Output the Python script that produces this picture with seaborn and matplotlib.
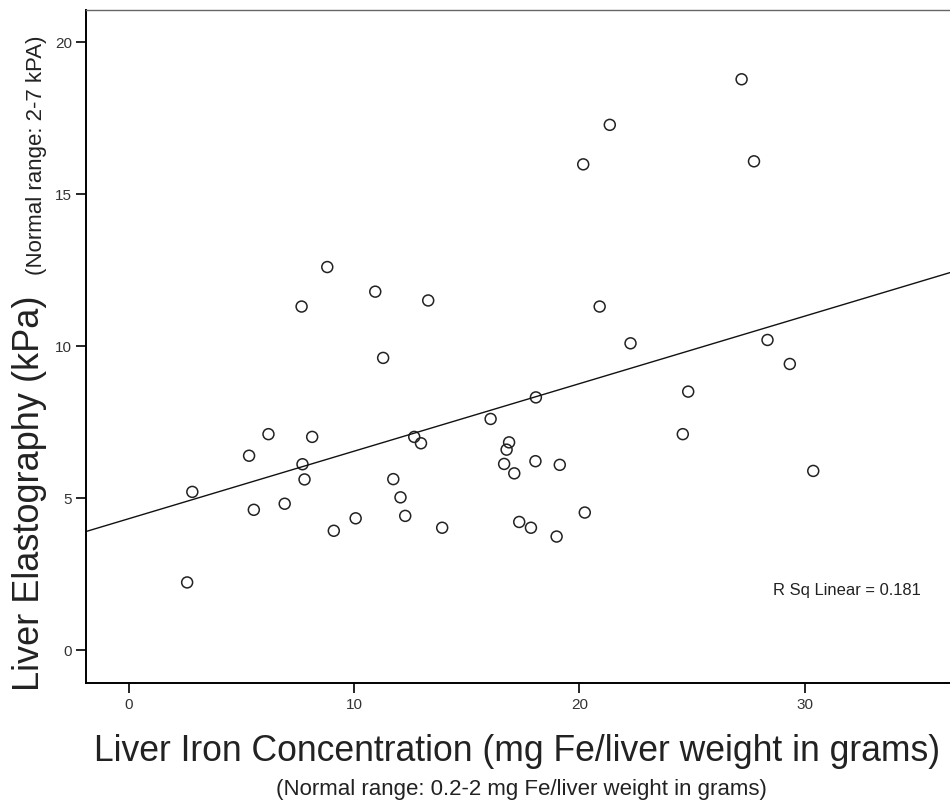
import numpy as np
import pandas as pd
import matplotlib
matplotlib.use('Agg')
import matplotlib.pyplot as plt
import seaborn as sns

# values
iron = [2.59, 2.82, 5.34, 5.55, 6.20, 6.92, 7.71, 7.80, 8.14, 9.10,
        10.07, 8.81, 7.67, 10.94, 13.29, 11.29, 11.74, 12.06, 12.27, 13.91,
        12.67, 12.97, 16.06, 18.07, 16.88, 16.77, 16.66, 17.11, 18.05, 19.13,
        17.33, 17.85, 18.99, 20.24, 20.90, 27.20, 21.35, 20.17, 27.75, 22.27,
        28.35, 29.34, 24.83, 24.59, 30.38]
elasto = [2.21, 5.19, 6.38, 4.60, 7.09, 4.80, 6.10, 5.60, 7.00, 3.91,
          4.32, 12.59, 11.29, 11.78, 11.49, 9.60, 5.61, 5.01, 4.40, 4.01,
          7.00, 6.79, 7.59, 8.30, 6.82, 6.58, 6.11, 5.80, 6.20, 6.08,
          4.20, 4.01, 3.72, 4.51, 11.29, 18.77, 17.27, 15.97, 16.07, 10.08,
          10.19, 9.40, 8.49, 7.09, 5.88]
x_ticks = [0, 10, 20, 30]
y_ticks = [0, 5, 10, 15, 20]
r_sq = 0.181

sns.set_style('white')
plt.rcParams['font.family'] = ['Liberation Sans', 'DejaVu Sans']

df = pd.DataFrame({'iron': iron, 'elasto': elasto})

fig = plt.figure(figsize=(9.5, 8.03), dpi=100)
ax = fig.add_axes([0.0905, 0.1482, 0.9095, 0.8381])
ax.set_xlim(-1.9, 36.45)
ax.set_ylim(-1.1, 21.05)

sns.regplot(data=df, x='iron', y='elasto', ci=None, ax=ax, truncate=False,
            color='#222222',
            scatter_kws=dict(s=62, facecolors='none', edgecolors='#222222',
                             linewidths=1.1, alpha=1),
            line_kws=dict(color='#111111', lw=1.0))

ax.set_xlim(-1.9, 36.45)
ax.set_ylim(-1.1, 21.05)
ax.set_xlabel('')
ax.set_ylabel('')
ax.set_xticks(x_ticks)
ax.set_yticks(y_ticks)
ax.tick_params(bottom=True, left=True, direction='out', length=7, width=1.2,
               color='black', labelsize=11, labelcolor='#333333', pad=3)

for s in ['left', 'bottom']:
    ax.spines[s].set_color('black')
    ax.spines[s].set_linewidth(1.4)
ax.spines['top'].set_color('#666666')
ax.spines['top'].set_linewidth(1.0)
ax.spines['right'].set_visible(False)

fig.text(847 / 950, 1 - 590 / 803, 'R Sq Linear = %.3f' % r_sq,
         ha='center', va='center', fontsize=11.9, color='#222222')

fig.text(517 / 950, 1 - 752 / 803,
         'Liver Iron Concentration (mg Fe/liver weight in grams)',
         ha='center', va='center', fontsize=25.6, color='#222222')
fig.text(521 / 950, 1 - 790 / 803,
         '(Normal range: 0.2-2 mg Fe/liver weight in grams)',
         ha='center', va='center', fontsize=16, color='#222222')
fig.text(30 / 950, 1 - 493 / 803, 'Liver Elastography (kPa)', rotation=90,
         ha='center', va='center', fontsize=26, color='#222222')
fig.text(37 / 950, 1 - 155 / 803, '(Normal range: 2-7 kPA)', rotation=90,
         ha='center', va='center', fontsize=16, color='#222222')

fig.savefig('out.png', dpi=100)
